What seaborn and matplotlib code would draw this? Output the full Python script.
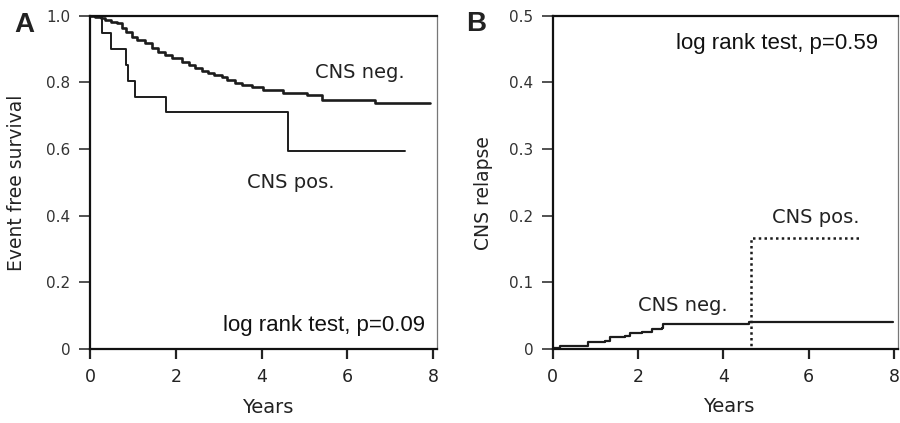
import matplotlib
matplotlib.use("Agg")
import matplotlib.pyplot as plt
import seaborn as sns
import pandas as pd

# ---- Data ----
# Panel A: event free survival (Kaplan-Meier steps)
neg_a_years = [0, 0.12, 0.25, 0.35, 0.5, 0.62, 0.74, 0.85, 0.97, 1.1, 1.28, 1.45, 1.59, 1.75,
               1.90, 2.14, 2.3, 2.45, 2.6, 2.76, 2.9, 3.07, 3.2, 3.38, 3.55, 3.77, 4.04, 4.51,
               5.05, 5.40, 6.64, 7.93]
neg_a_surv = [1.0, 0.997, 0.992, 0.987, 0.982, 0.977, 0.962, 0.950, 0.937, 0.927, 0.917, 0.903,
              0.892, 0.882, 0.872, 0.862, 0.852, 0.842, 0.835, 0.827, 0.822, 0.817, 0.807, 0.797,
              0.792, 0.787, 0.777, 0.769, 0.762, 0.747, 0.737, 0.737]
pos_a_years = [0, 0.27, 0.50, 0.83, 0.88, 1.05, 1.77, 4.62, 7.34]
pos_a_surv = [1.0, 0.947, 0.899, 0.852, 0.805, 0.757, 0.712, 0.594, 0.594]

# Panel B: cumulative CNS relapse
neg_b_years = [0, 0.17, 0.83, 1.23, 1.34, 1.69, 1.81, 2.09, 2.32, 2.55, 2.59, 4.59, 7.98]
neg_b_rel = [0.001, 0.0045, 0.011, 0.0125, 0.0175, 0.0195, 0.0235, 0.026, 0.0295, 0.031,
             0.037, 0.041, 0.041]
pos_b_years = [0, 4.65, 7.23]
pos_b_rel = [0.0, 0.167, 0.167]

x_ticks = [0, 2, 4, 6, 8]
a_yticks = [0, 0.2, 0.4, 0.6, 0.8, 1.0]
a_yticklabels = ["0", "0.2", "0.4", "0.6", "0.8", "1.0"]
b_yticks = [0, 0.1, 0.2, 0.3, 0.4, 0.5]
b_yticklabels = ["0", "0.1", "0.2", "0.3", "0.4", "0.5"]

sns.set_style("ticks")
plt.rcParams["font.family"] = ["DejaVu Sans"]

LINE = "#1c1c1c"
TXT = "#222222"

fig = plt.figure(figsize=(9.0, 4.23), dpi=100)
axA = fig.add_axes([0.1, 0.1749, 0.3856, 0.788])
axB = fig.add_axes([0.6141, 0.1749, 0.3837, 0.788])

dfA_neg = pd.DataFrame({"Years": neg_a_years, "val": neg_a_surv})
dfA_pos = pd.DataFrame({"Years": pos_a_years, "val": pos_a_surv})
dfB_neg = pd.DataFrame({"Years": neg_b_years, "val": neg_b_rel})
dfB_pos = pd.DataFrame({"Years": pos_b_years, "val": pos_b_rel})

sns.lineplot(data=dfA_neg, x="Years", y="val", drawstyle="steps-post", estimator=None,
             color=LINE, linewidth=1.9, ax=axA)
sns.lineplot(data=dfA_pos, x="Years", y="val", drawstyle="steps-post", estimator=None,
             color=LINE, linewidth=1.4, ax=axA)
sns.lineplot(data=dfB_neg, x="Years", y="val", drawstyle="steps-post", estimator=None,
             color=LINE, linewidth=1.6, ax=axB)
sns.lineplot(data=dfB_pos, x="Years", y="val", drawstyle="steps-post", estimator=None,
             color=LINE, linewidth=1.8, linestyle=(0, (1, 1.3)), ax=axB)

for ax, yt, ytl, ytop in [(axA, a_yticks, a_yticklabels, 1.0), (axB, b_yticks, b_yticklabels, 0.5)]:
    ax.set_xlim(0, 8.09)
    ax.set_ylim(0, ytop)
    ax.set_xticks(x_ticks)
    ax.set_xticklabels([str(v) for v in x_ticks])
    ax.set_yticks(yt)
    ax.set_yticklabels(ytl)
    for s in ["left", "bottom", "top"]:
        ax.spines[s].set_visible(True)
        ax.spines[s].set_linewidth(1.6)
        ax.spines[s].set_color("#111111")
    ax.spines["right"].set_visible(True)
    ax.spines["right"].set_linewidth(0.9)
    ax.spines["right"].set_color("#777777")
    ax.tick_params(axis="y", direction="out", length=8, width=1.2, color="#333333",
                   labelsize=11, labelcolor="#333333", pad=6)
    ax.tick_params(axis="x", direction="out", length=7, width=1.6, color="#222222",
                   labelsize=12.5, labelcolor="#222222", pad=7)
    ax.set_xlabel("Years", fontsize=14, color=TXT)

axA.set_ylabel("Event free survival", fontsize=13.5, color=TXT)
axA.yaxis.set_label_coords(-0.184, 0.5)
axA.xaxis.set_label_coords(0.513, -0.147)
axB.set_ylabel("CNS relapse", fontsize=13.5, color=TXT)
axB.yaxis.set_label_coords(-0.173, 0.467)
axB.xaxis.set_label_coords(0.51, -0.144)

# annotations
axA.text(6.3, 0.83, "CNS neg.", fontsize=14, color=TXT, ha="center", va="center")
axA.text(4.67, 0.50, "CNS pos.", fontsize=14, color=TXT, ha="center", va="center")
axA.text(7.81, 0.072, "log rank test, p=0.09", fontsize=16, color="#111111",
         ha="right", va="center", family=["Liberation Sans", "DejaVu Sans"])
axB.text(3.04, 0.066, "CNS neg.", fontsize=14, color=TXT, ha="center", va="center")
axB.text(6.17, 0.198, "CNS pos.", fontsize=14, color=TXT, ha="center", va="center")
axB.text(7.63, 0.459, "log rank test, p=0.59", fontsize=16, color="#111111",
         ha="right", va="center", family=["Liberation Sans", "DejaVu Sans"])

fig.text(24 / 900, 1 - 25 / 423, "A", fontsize=20, fontweight="bold", color="#222222",
         ha="center", va="center", family=["Liberation Sans", "DejaVu Sans"])
fig.text(476 / 900, 1 - 24 / 423, "B", fontsize=20, fontweight="bold", color="#222222",
         ha="center", va="center", family=["Liberation Sans", "DejaVu Sans"])

fig.savefig("out.png", dpi=100)
